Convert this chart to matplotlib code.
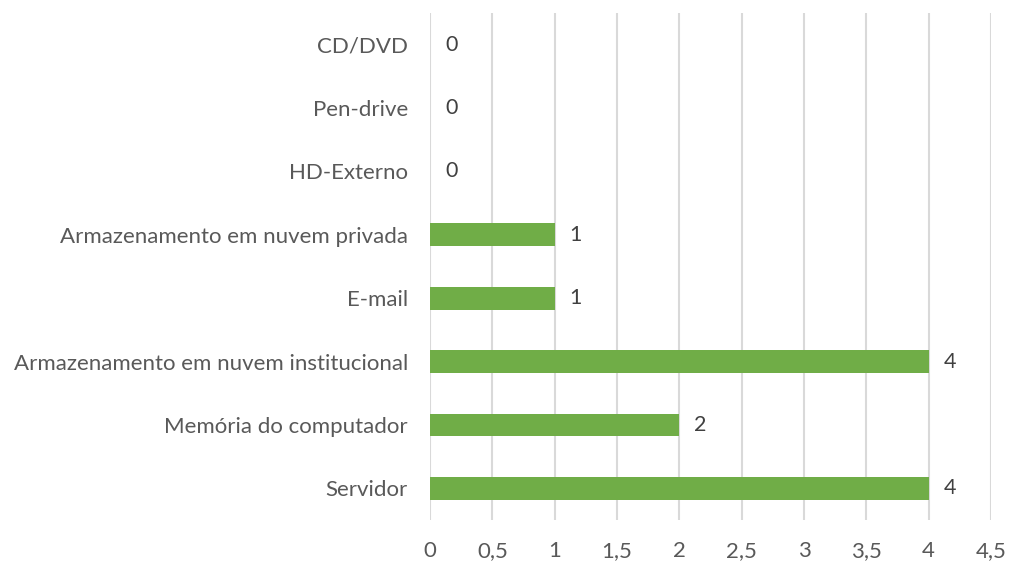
import matplotlib
matplotlib.use("Agg")
import matplotlib.pyplot as plt
from matplotlib.ticker import FuncFormatter

categories = ["Servidor", "Memória do computador", "Armazenamento em nuvem institucional",
              "E-mail", "Armazenamento em nuvem privada", "HD-Externo", "Pen-drive", "CD/DVD"]
values = [4, 2, 4, 1, 1, 0, 0, 0]
xticks = [0, 0.5, 1, 1.5, 2, 2.5, 3, 3.5, 4, 4.5]

plt.rcParams['font.family'] = ['Lato', 'DejaVu Sans']
txt = '#595959'

fig = plt.figure(figsize=(10.11, 5.62), dpi=100)
ax = fig.add_axes([430/1011, 1 - 520/562, (991-430)/1011, (520-13)/562])

y = list(range(len(categories)))
ax.barh(y, values, height=0.36, color='#70AD47', zorder=3)
for yi, v in zip(y, values):
    ax.text(v + 0.12, yi, str(v), va='center', ha='left', fontsize=15.5, color='#404040')

ax.set_xlim(0, 4.5)
ax.set_ylim(-0.5, 7.5)
ax.set_xticks(xticks)
ax.xaxis.set_major_formatter(FuncFormatter(lambda v, p: ('%g' % v).replace('.', ',')))
ax.set_yticks(y)
ax.set_yticklabels(categories)
ax.grid(axis='x', color='#D9D9D9', linewidth=1.5, zorder=0)
for s in ax.spines.values():
    s.set_visible(False)
ax.tick_params(axis='both', length=0, labelsize=16, colors=txt)
ax.tick_params(axis='x', pad=15)
ax.tick_params(axis='y', pad=16)

fig.savefig('out.png', dpi=100, facecolor='white')
